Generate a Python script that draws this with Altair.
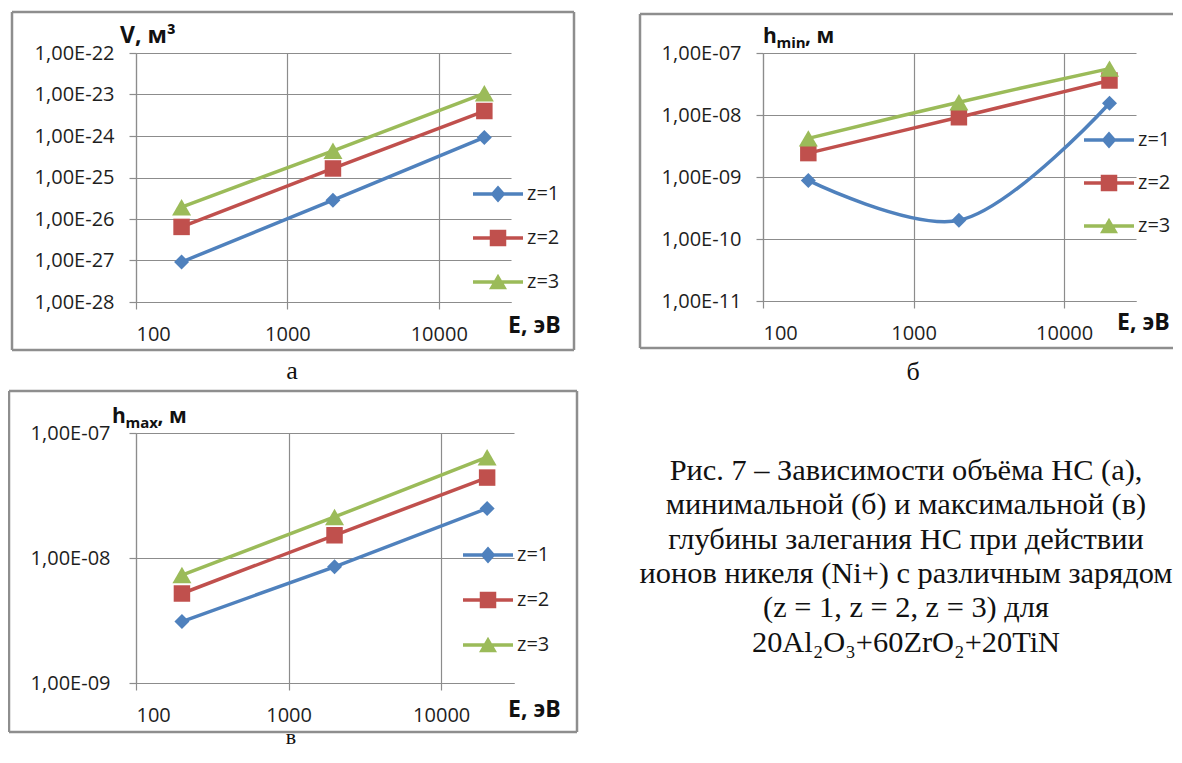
import altair as alt
import pandas as pd

# ---------------- data ----------------
E = [200, 2000, 20000]
SERIES = ["z=1", "z=2", "z=3"]
COLORS = ["#4F81BD", "#C0504D", "#9BBB59"]
SHAPES = ["diamond", "square", "triangle-up"]
SIZES = [225, 272, 361]

V_Z1 = [9.2e-28, 2.84e-26, 9.25e-25]
V_Z2 = [6.45e-27, 1.65e-25, 4.0e-24]
V_Z3 = [1.93e-26, 4.4e-25, 1.07e-23]

HMIN_Z1 = [8.8e-10, 2.0e-10, 1.55e-8]
HMIN_Z2 = [2.43e-9, 9.2e-9, 3.6e-8]
HMIN_Z3 = [4.2e-9, 1.61e-8, 5.6e-8]

HMAX_Z1 = [3.1e-9, 8.5e-9, 2.49e-8]
HMAX_Z2 = [5.2e-9, 1.52e-8, 4.4e-8]
HMAX_Z3 = [7.3e-9, 2.13e-8, 6.4e-8]

X_TICKS = [100, 1000, 10000]
X_DOMAIN = [100, 30000]
V_TICKS = [1e-28, 1e-27, 1e-26, 1e-25, 1e-24, 1e-23, 1e-22]
HMIN_TICKS = [1e-11, 1e-10, 1e-9, 1e-8, 1e-7]
HMAX_TICKS = [1e-9, 1e-8, 1e-7]

CAPTION = [
    "Рис. 7 – Зависимости объёма НС (а),",
    "минимальной (б) и максимальной (в)",
    "глубины залегания НС при действии",
    "ионов никеля (Ni+) с различным зарядом",
    "(z = 1, z = 2, z = 3) для",
    "20Al₂O₃+60ZrO₂+20TiN",
]

# ---------------- style ----------------
FONT = "Open Sans"
SERIF = "Liberation Serif"
GRID = "#8c8c8c"
FRAME = "#8e8e8e"
LABEL = "#1e1e1e"

one = pd.DataFrame({"k": [0]})


def series_df(vals_by_series):
    rows = []
    for name, vals in zip(SERIES, vals_by_series):
        for e, v in zip(E, vals):
            rows.append({"E": e, "value": v, "z": name})
    return pd.DataFrame(rows)


LABEL_EXPR = ("'1,00E-' + (round(-log(datum.value) / LN10) < 10 ? '0' : '') + "
              "round(-log(datum.value) / LN10)")

LINE_PATH = "M-1,-0.07H1V0.07H-1Z"
MARK_PATHS = ["M0,-0.34L0.3,0L0,0.34L-0.3,0Z",
              "M-0.33,-0.33H0.33V0.33H-0.33Z",
              "M0,-0.33L0.36,0.29H-0.36Z"]
LEG_PATHS = [LINE_PATH + m for m in MARK_PATHS]
SHAPE_EXPR = (f"datum.value === '{SERIES[0]}' ? '{LEG_PATHS[0]}' : "
              f"datum.value === '{SERIES[1]}' ? '{LEG_PATHS[1]}' : '{LEG_PATHS[2]}'")

AX = dict(grid=True, gridColor=GRID, gridWidth=1.2, domainColor=GRID, domainWidth=1.2,
          tickColor=GRID, tickWidth=1.2, tickSize=7, labelFont=FONT, labelFontSize=20,
          labelColor=LABEL, title=None)


def txt(s, x, y, size, weight="bold", font=FONT, align="left", color="#111111"):
    return alt.Chart(one).mark_text(
        text=s, font=font, fontSize=size, fontWeight=weight, align=align,
        baseline="alphabetic", color=color
    ).encode(x=alt.value(x), y=alt.value(y))


def rule(x1, x2, y1, y2):
    return alt.Chart(one).mark_rule(color=FRAME, strokeWidth=2.5).encode(
        x=alt.value(x1), x2=alt.value(x2), y=alt.value(y1), y2=alt.value(y2))


def box(l, r, t, b):
    return [rule(l, r, t, t), rule(l, r, b, b), rule(l, l, t, b), rule(r, r, t, b)]


def panel(df, ydom, yticks, w, h, interp, leg, frame, texts, ylabpad=15):
    x = alt.X("E:Q", scale=alt.Scale(type="log", domain=X_DOMAIN, nice=False),
              axis=alt.Axis(values=X_TICKS, format="d", labelPadding=15, **AX))
    y = alt.Y("value:Q", scale=alt.Scale(type="log", domain=ydom, nice=False),
              axis=alt.Axis(values=yticks, labelExpr=LABEL_EXPR, labelPadding=ylabpad, **AX))
    cscale = alt.Scale(domain=SERIES, range=COLORS)
    lx, ly, rp = leg
    legend = alt.Legend(
        orient="none", legendX=lx, legendY=ly, title=None, padding=0,
        symbolSize=2500, symbolStrokeWidth=0, symbolOpacity=1, rowPadding=rp, labelOffset=4,
        labelFont=FONT, labelFontSize=20, labelColor=LABEL,
        symbolType=alt.ExprRef(expr=SHAPE_EXPR))
    carrier = alt.Chart(df).mark_point(filled=True, size=0, opacity=0).encode(
        x=x, y=y, color=alt.Color("z:N", scale=cscale, legend=legend))
    lines = alt.Chart(df).mark_line(strokeWidth=3.5, interpolate=interp).encode(
        x=x, y=y, color=alt.Color("z:N", scale=cscale, legend=legend))
    pts = [
        alt.Chart(df).transform_filter(alt.datum.z == name).mark_point(
            filled=True, shape=shp, size=sz, color=col, opacity=1
        ).encode(x=x, y=y)
        for name, shp, sz, col in zip(SERIES, SHAPES, SIZES, COLORS)
    ]
    return alt.layer(*frame, carrier, lines, *pts, *texts).properties(width=w, height=h)


pa = panel(
    series_df([V_Z1, V_Z2, V_Z3]), [1e-28, 1e-22], V_TICKS, 375, 249, "linear",
    (337, 116, 9), box(-124, 438, -41, 297),
    [txt("V, м³", -16, -10, 23), txt("E, эВ", 372, 280, 23),
     txt("а", 156, 326, 26, weight="normal", font=SERIF, align="center")],
)

pb = panel(
    series_df([HMIN_Z1, HMIN_Z2, HMIN_Z3]), [1e-11, 1e-7], HMIN_TICKS, 373, 248, "catmull-rom",
    (321, 62, 8), [rule(-123, 420, -39, -39), rule(-123, 420, 295, 295), rule(-123, -123, -39, 295)],
    [txt("h", 0, -10, 21), txt("min", 13.5, -5, 15), txt(", м", 42, -10, 21),
     txt("E, эВ", 354, 277, 23),
     txt("б", 150, 327, 26, weight="normal", font=SERIF, align="center")],
)

pc = panel(
    series_df([HMAX_Z1, HMAX_Z2, HMAX_Z3]), [1e-9, 1e-7], HMAX_TICKS, 378, 250, "linear",
    (327, 97, 10), box(-127, 441, -42, 299),
    [txt("h", -24, -10, 21), txt("max", -10.5, -5, 15), txt(", м", 21.5, -10, 21),
     txt("E, эВ", 372, 284, 23),
     txt("в", 155, 311, 22, weight="normal", font=SERIF, align="center")],
    ylabpad=19,
)

cap_df = pd.DataFrame({"caption": ["\n".join(CAPTION)]})
cap = alt.Chart(cap_df).mark_text(
    font=SERIF, fontSize=30.4, lineBreak="\n", lineHeight=34.3, align="center",
    baseline="alphabetic", color="#111111"
).encode(x=alt.value(143), y=alt.value(47), text="caption:N").properties(width=373, height=250)

chart = alt.concat(
    pa, pb, pc, cap, columns=2, bounds="flush", align="none",
    spacing={"row": 131, "column": 249},
).resolve_scale(
    x="independent", y="independent", color="independent"
).resolve_legend(
    color="independent"
).properties(
    autosize=alt.AutoSizeParams(type="none"),
    padding={"left": 128, "top": 45, "right": 1037, "bottom": 696}, background="white"
).configure_view(stroke=None)

chart.save("out.html", embed_options={"renderer": "svg", "actions": False})
